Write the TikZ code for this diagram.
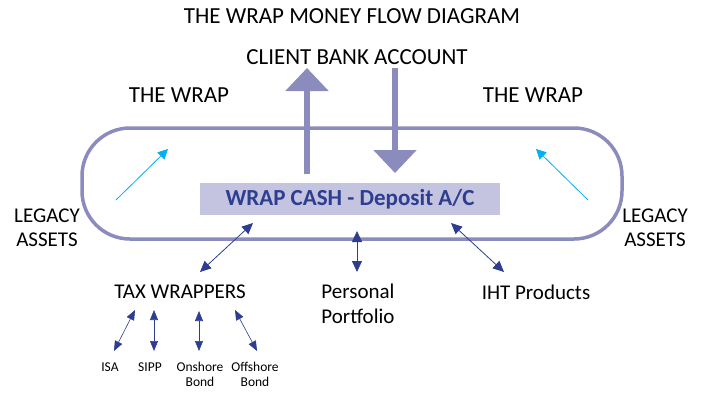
\documentclass[tikz,border=0pt]{standalone}
\usepackage{fontspec}
\setmainfont{Carlito}
\usetikzlibrary{arrows.meta}
\definecolor{wrapline}{RGB}{139,139,190}
\definecolor{cashfill}{RGB}{196,196,225}
\definecolor{navy}{RGB}{45,62,145}
\definecolor{legacy}{RGB}{0,176,240}
\tikzset{
  big/.style={font=\fontsize{23}{25}\selectfont, align=center, inner sep=0pt},
  mid/.style={font=\fontsize{21}{24.5}\selectfont, align=center, inner sep=0pt},
  small/.style={font=\fontsize{13.5}{15}\selectfont, align=center, inner sep=0pt},
  flow/.style={navy, line width=0.8pt, {Triangle[length=11pt,width=10pt]}-{Triangle[length=11pt,width=10pt]}},
  smallflow/.style={navy, line width=0.6pt, {Triangle[length=10pt,width=8pt]}-{Triangle[length=10pt,width=8pt]}},
  inflow/.style={legacy, line width=0.8pt, -{Triangle[length=10pt,width=10pt]}},
  bank/.style={wrapline, line width=6pt, -{Triangle[length=23pt,width=42pt]}}
}
\begin{document}
\begin{tikzpicture}[x=1pt,y=-1pt]
\useasboundingbox (0,0) rectangle (715,400);
\node[big] (title) at (352,16) {THE WRAP MONEY FLOW DIAGRAM};
\node[big] (client) at (357,57) {CLIENT BANK ACCOUNT};
\node[big] (wrapL) at (179,95) {THE WRAP};
\node[big] (wrapR) at (533,95) {THE WRAP};
\draw[wrapline, line width=3.5pt, rounded corners=48pt] (82,128) rectangle (622,239);
\node[fill=cashfill, minimum width=300pt, minimum height=32pt, inner sep=0pt,
  text=navy, font=\bfseries\fontsize{23}{25}\selectfont] (cash) at (350,199) {WRAP CASH - Deposit A/C};
\node[mid] (legL) at (47,228) {LEGACY\\ASSETS};
\node[mid] (legR) at (655,228) {LEGACY\\ASSETS};
\node[mid] (tax) at (180,292) {TAX WRAPPERS};
\node[mid] (pers) at (358,304) {Personal\\Portfolio};
\node[mid] (iht) at (536,292) {IHT Products};
\node[small] (isa) at (110,367) {ISA};
\node[small] (sipp) at (150,367) {SIPP};
\node[small] (onshore) at (200,374) {Onshore\\Bond};
\node[small] (offshore) at (255,374) {Offshore\\Bond};
% money in and out of the wrap
\coordinate (upfoot) at (307,174);
\coordinate (uptip) at (307,68);
\coordinate (downtop) at (395,68);
\coordinate (downtip) at (395,173);
\draw[bank] (upfoot) -- (uptip);
\draw[bank] (downtop) -- (downtip);
% legacy assets coming in
\coordinate (inL) at (116,200);
\coordinate (inLtip) at (168,149);
\coordinate (inR) at (588,200);
\coordinate (inRtip) at (536,149);
\draw[inflow] (inL) -- (inLtip);
\draw[inflow] (inR) -- (inRtip);
% cash to products
\coordinate (c1) at (253,223);
\coordinate (c2) at (357,231);
\coordinate (c3) at (451,223);
\draw[flow] (c1) -- (200,272);
\draw[flow] (c2) -- (357,272);
\draw[flow] (c3) -- (504,272);
\draw[smallflow] (135,310) -- (114,351);
\draw[smallflow] (154,310) -- (154,351);
\draw[smallflow] (199,311) -- (199,351);
\draw[smallflow] (235,310) -- (257,351);
\end{tikzpicture}
\end{document}
